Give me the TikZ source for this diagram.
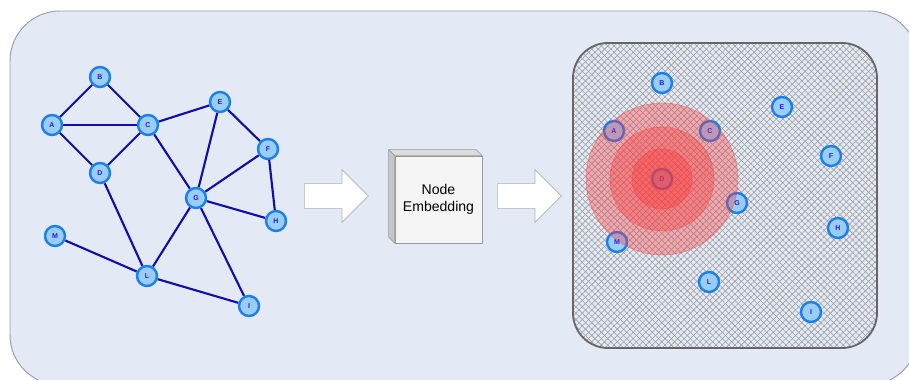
\documentclass[tikz,border=0pt]{standalone}
\usepackage{fontspec}
\setmainfont{Liberation Sans}
\usetikzlibrary{positioning, shapes.arrows, patterns.meta}
\definecolor{panelfill}{HTML}{E3E9F5}
\definecolor{paneledge}{HTML}{9E9EAA}
\definecolor{nodefill}{HTML}{99CCFF}
\definecolor{nodering}{HTML}{1A7FE8}
\definecolor{nodetext}{HTML}{2020E0}
\definecolor{edgeblue}{HTML}{0E0EAE}
\definecolor{hatchgray}{HTML}{9C9C9C}
\definecolor{spaceedge}{HTML}{666666}
\definecolor{boxfront}{HTML}{F5F5F5}
\definecolor{boxside}{HTML}{DCDCDC}
\definecolor{halored}{HTML}{FF3333}
\pgfdeclarelayer{bg}
\pgfdeclarelayer{edges}
\pgfsetlayers{bg,edges,main}
\tikzset{
  vertex/.style={circle,draw=nodering,fill=nodefill,line width=1.7pt,minimum size=0.5cm,
    inner sep=0pt,text=nodetext,font=\fontsize{5}{5}\selectfont\bfseries},
  edge/.style={draw=edgeblue,line width=1.5pt},
  blockarrow/.style={single arrow,draw=gray!60,fill=white,line width=0.5pt,anchor=tail,
    inner xsep=0pt,inner ysep=0.3cm,minimum height=1.6cm,single arrow head extend=0.35cm},
  embedbox/.style={rectangle,draw=gray!80,fill=boxfront,line width=0.4pt,align=center,
    minimum width=2.175cm,minimum height=2.175cm,font=\fontsize{10}{12}\selectfont},
  boxface/.style={draw=gray!80,fill=boxside,line width=0.4pt,line join=round},
  halo/.style={fill=halored,fill opacity=0.34,draw=halored,draw opacity=0.35,line width=0.5pt},
}
\begin{document}
\begin{tikzpicture}[x=0.025cm,y=-0.025cm]
  \useasboundingbox (0,0) rectangle (909,380);
  \begin{pgfonlayer}{bg}
    \draw[fill=panelfill,draw=paneledge,line width=0.7pt,rounded corners=1.25cm] (10,11) rectangle (918,385);
  \end{pgfonlayer}

  % input graph
  \foreach \n/\x/\y in {A/52/125, B/100/77, C/148/125, D/100/173, E/220/102, F/268/149,
                        G/196/198, H/276/221, M/55/236, L/147/276, I/249/306} {
    \node[vertex] (g\n) at (\x,\y) {\n};
  }
  \begin{pgfonlayer}{edges}
    \foreach \a/\b in {A/B, B/C, A/C, A/D, C/D, C/E, C/G, D/L, E/G, E/F,
                       F/G, F/H, G/H, G/L, G/I, M/L, L/I} {
      \draw[edge] (g\a) -- (g\b);
    }
  \end{pgfonlayer}

  \node[blockarrow] (arrIn) at (304,196) {};
  \node[embedbox] (embed) at (438.5,199.5) {Node\\Embedding};
  \filldraw[boxface] (embed.north west) -- ++(-6,-6) -- ([shift={(-6,-6)}]embed.north east) -- (embed.north east) -- cycle;
  \filldraw[boxface,fill=boxside!90!black] (embed.north west) -- ++(-6,-6) -- ([shift={(-6,-6)}]embed.south west) -- (embed.south west) -- cycle;
  \node[blockarrow] (arrOut) at (497,196) {};

  % embedding space
  \path[fill=panelfill,rounded corners=0.875cm] (573,43) rectangle (877,348);
  \path[pattern={Lines[angle=45,distance=3.2pt,line width=0.4pt]},pattern color=hatchgray,
        rounded corners=0.875cm] (573,43) rectangle (877,348);
  \path[pattern={Lines[angle=-45,distance=3.2pt,line width=0.4pt]},pattern color=hatchgray,
        rounded corners=0.875cm] (573,43) rectangle (877,348);
  \draw[spaceedge,line width=1.3pt,rounded corners=0.875cm] (573,43) rectangle (877,348);
  \foreach \n/\x/\y in {A/614/131, B/662/83, C/710/131, D/662/179, E/782/107, F/831/156,
                        G/737/203, H/838/228, M/617/242, L/709/282, I/811/312} {
    \node[vertex] (e\n) at (\x,\y) {\n};
  }
  \foreach \r in {1.9,1.3,0.75} {
    \filldraw[halo] (eD) circle[radius=\r cm];
  }
\end{tikzpicture}
\end{document}
